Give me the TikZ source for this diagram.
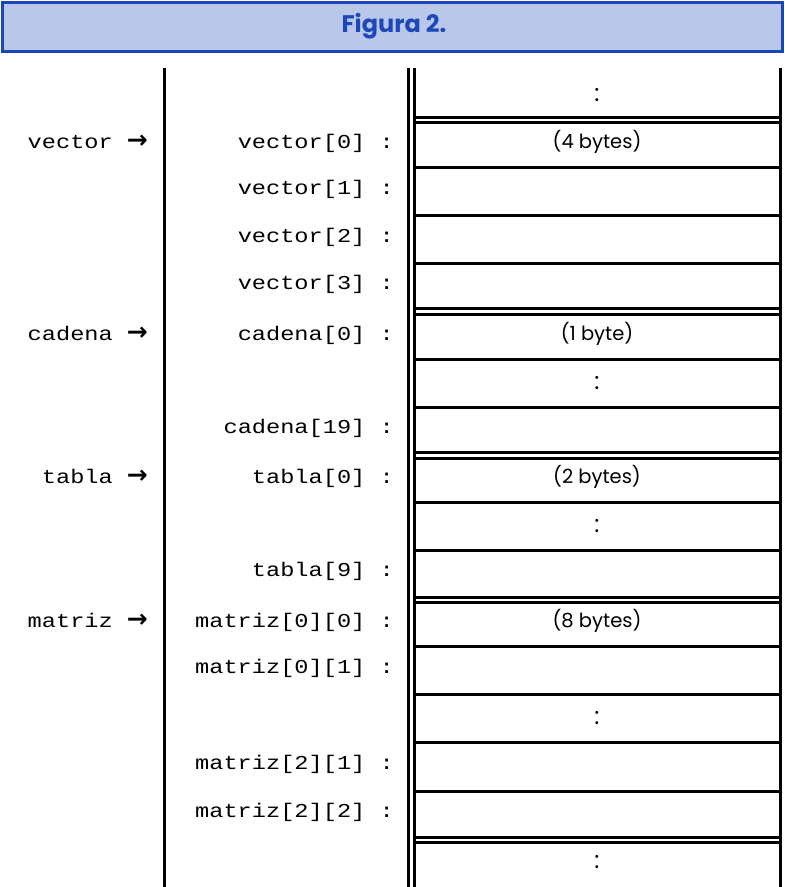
\documentclass[tikz,border=0pt]{standalone}
\usepackage{fontspec}
\newfontfamily\monof[FakeStretch=1.2]{Liberation Mono}
\newfontfamily\sansf{Poppins}
\newfontfamily\arrf{DejaVu Sans}
\newcommand{\monosz}{\monof\fontsize{19.7}{22}\selectfont}
\newcommand{\cellsz}{\sansf\fontsize{19.5}{22}\selectfont}
\newcommand{\dotsz}{\sansf\fontsize{24}{26}\selectfont}
\newcommand{\titlesz}{\sansf\bfseries\fontsize{24}{28}\selectfont}
\newcommand{\ptrarrow}{\hspace{14pt}{\arrf\bfseries\fontsize{25}{26}\selectfont →}}
\definecolor{hdrborder}{HTML}{1B46B5}
\definecolor{hdrfill}{HTML}{B8C7EA}
\definecolor{hdrtext}{HTML}{1E48B8}
\tikzset{
  memline/.style={line width=3pt, line cap=butt},
  addr/.style={anchor=base east, inner sep=0pt, font=\monosz},
  ptr/.style={anchor=base east, inner sep=0pt, font=\monosz},
  celltxt/.style={anchor=base, inner sep=0pt, font=\cellsz},
  dots/.style={inner sep=0pt, font=\dotsz},
}
\begin{document}
\begin{tikzpicture}[x=1pt,y=-1pt]
\useasboundingbox (0,0) rectangle (785,887);
% header
\draw[line width=3.5pt, draw=hdrborder, fill=hdrfill] (2.5,2.5) rectangle (782.5,51.5);
\node[font=\titlesz, text=hdrtext, inner sep=0pt] (title) at (394,26) {Figura 2.};
% vertical lines
\draw[memline] (164.5,68) -- (164.5,887);
\draw[memline] (408,68) -- (408,887);
\draw[memline] (414,68) -- (414,887);
\draw[memline] (780.5,68) -- (780.5,887);
% horizontal lines
\foreach \y in {117.3,122.8,167.3,215,263,308.7,314.2,359.3,407,452.5,458,502,550,597,602.5,646,694,742,791.3,837.3,842.8}
  \draw[memline] (414,\y) -- (780.5,\y);
% cell contents
\node[dots] (d0) at (597,95) {:};
\node[celltxt] (c1) at (597,148) {(4 bytes)};
\node[celltxt] (c5) at (597,340) {(1 byte)};
\node[dots] (d6) at (597,383) {:};
\node[celltxt] (c8) at (597,483) {(2 bytes)};
\node[dots] (d9) at (597,526) {:};
\node[celltxt] (c11) at (597,627.5) {(8 bytes)};
\node[dots] (d13) at (597,718) {:};
\node[dots] (d16) at (597,862) {:};
% address labels
\node[addr] (a1) at (394,148) {vector[0] :};
\node[addr] (a2) at (394,194) {vector[1] :};
\node[addr] (a3) at (394,242) {vector[2] :};
\node[addr] (a4) at (394,289) {vector[3] :};
\node[addr] (a5) at (394,340) {cadena[0] :};
\node[addr] (a7) at (394,433) {cadena[19] :};
\node[addr] (a8) at (394,483) {tabla[0] :};
\node[addr] (a10) at (394,576.5) {tabla[9] :};
\node[addr] (a11) at (394,627.5) {matriz[0][0] :};
\node[addr] (a12) at (394,673) {matriz[0][1] :};
\node[addr] (a14) at (394,769.7) {matriz[2][1] :};
\node[addr] (a15) at (394,817.3) {matriz[2][2] :};
% pointer labels
\node[ptr] (pv) at (148,148) {vector\ptrarrow};
\node[ptr] (pc) at (148,340) {cadena\ptrarrow};
\node[ptr] (pt) at (148,483) {tabla\ptrarrow};
\node[ptr] (pm) at (148,627.5) {matriz\ptrarrow};
\end{tikzpicture}
\end{document}
